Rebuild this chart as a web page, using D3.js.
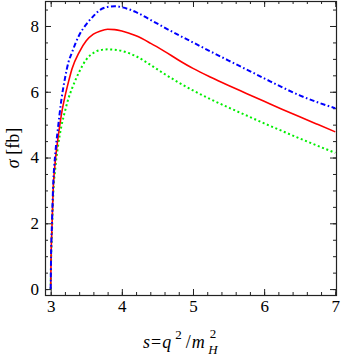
<!DOCTYPE html>
<html lang="en">
	<head>
		<meta charset="UTF-8" />
		<title>sigma vs s</title>
		<script src="https://d3js.org/d3.v7.min.js"></script>
		<style>
			body {
				margin: 0;
				background: #fff;
			}
		</style>
	</head>
	<body>
		<svg id="chart" width="341" height="356"></svg>
		<script>
			// s = q^2 / m_H^2 sample points
			const sValues = [
				3, 3.005, 3.018, 3.033, 3.066, 3.1, 3.15, 3.2, 3.25, 3.3, 3.4, 3.5,
				3.6, 3.7, 3.8, 3.9, 4.0, 4.2, 4.4, 4.6, 4.8, 5.0, 5.25, 5.5, 5.75,
				6.0, 6.25, 6.5, 6.75, 7.0,
			];
			// sigma in fb
			const sigmaBlue = [
				0, 0.95, 2.0, 3.05, 4.15, 4.85, 5.75, 6.4, 6.9, 7.2, 7.72, 8.05, 8.3,
				8.5, 8.58, 8.6, 8.57, 8.42, 8.19, 7.95, 7.72, 7.5, 7.22, 6.95, 6.68,
				6.41, 6.14, 5.89, 5.68, 5.5,
			];
			const sigmaRed = [
				0, 0.88, 1.88, 2.92, 3.92, 4.55, 5.3, 5.85, 6.3, 6.7, 7.2, 7.55, 7.75,
				7.85, 7.9, 7.89, 7.85, 7.7, 7.48, 7.23, 6.96, 6.71, 6.44, 6.19, 5.95,
				5.71, 5.47, 5.24, 5.01, 4.78,
			];
			const sigmaGreen = [
				0, 0.8, 1.75, 2.75, 3.7, 4.3, 4.95, 5.4, 5.8, 6.1, 6.6, 6.98, 7.18,
				7.27, 7.29, 7.28, 7.24, 7.08, 6.82, 6.54, 6.28, 6.04, 5.77, 5.52, 5.28,
				5.04, 4.81, 4.58, 4.36, 4.14,
			];
			const xTicks = [3, 4, 5, 6, 7];
			const yTicks = [0, 2, 4, 6, 8];

			const serif = "'Liberation Serif', 'DejaVu Serif', serif";

			const fLeft = 45,
				fRight = 336,
				fTop = 1,
				fBottom = 295;

			const svg = d3.select("#chart");

			const x = d3.scaleLinear().domain([2.92, 7.01]).range([fLeft, fRight]);
			const y = d3.scaleLinear().domain([-0.18, 8.76]).range([fBottom, fTop]);

			const xMinor = d3.range(3, 7.01, 0.2);
			const yMinor = d3.range(0, 8.76, 0.5);

			// minor ticks, all four sides
			svg.append("g")
				.attr("transform", `translate(0,${fBottom})`)
				.call(d3.axisBottom(x).tickValues(xMinor).tickSize(-3).tickFormat(""));
			svg.append("g")
				.attr("transform", `translate(0,${fTop})`)
				.call(d3.axisTop(x).tickValues(xMinor).tickSize(-3).tickFormat(""));
			svg.append("g")
				.attr("transform", `translate(${fLeft},0)`)
				.call(d3.axisLeft(y).tickValues(yMinor).tickSize(-3).tickFormat(""));
			svg.append("g")
				.attr("transform", `translate(${fRight},0)`)
				.call(d3.axisRight(y).tickValues(yMinor).tickSize(-3).tickFormat(""));

			// major ticks with labels
			svg.append("g")
				.attr("class", "xaxis")
				.attr("transform", `translate(0,${fBottom})`)
				.call(d3.axisBottom(x).tickValues(xTicks).tickSize(-6).tickPadding(5).tickFormat(d3.format("d")));
			svg.append("g")
				.attr("transform", `translate(0,${fTop})`)
				.call(d3.axisTop(x).tickValues(xTicks).tickSize(-6).tickFormat(""));
			svg.append("g")
				.attr("class", "yaxis")
				.attr("transform", `translate(${fLeft},0)`)
				.call(d3.axisLeft(y).tickValues(yTicks).tickSize(-6).tickPadding(6).tickFormat(d3.format("d")));
			svg.append("g")
				.attr("transform", `translate(${fRight},0)`)
				.call(d3.axisRight(y).tickValues(yTicks).tickSize(-6).tickFormat(""));

			svg.selectAll(".domain").remove();
			svg.selectAll(".tick line").attr("stroke", "#222").attr("stroke-width", 1);
			svg.selectAll(".xaxis text, .yaxis text")
				.style("font-family", serif)
				.style("font-size", "17px")
				.attr("fill", "#000");

			// curves
			const series = [
				{ values: sigmaGreen, color: "#00ee00", dash: "2,2.6", width: 2 },
				{ values: sigmaRed, color: "#ff0000", dash: null, width: 1.6 },
				{ values: sigmaBlue, color: "#0000ff", dash: "5,2.5,1.6,2.5", width: 2 },
			];

			const line = d3
				.line()
				.x((d) => x(d[0]))
				.y((d) => y(d[1]))
				.curve(d3.curveMonotoneX);

			const plot = svg.append("g");
			plot.append("clipPath")
				.attr("id", "clip")
				.append("rect")
				.attr("x", fLeft)
				.attr("y", fTop)
				.attr("width", fRight - fLeft)
				.attr("height", fBottom - fTop);

			series.forEach((s) => {
				plot.append("path")
					.datum(sValues.map((v, i) => [v, s.values[i]]))
					.attr("clip-path", "url(#clip)")
					.attr("fill", "none")
					.attr("stroke", s.color)
					.attr("stroke-width", s.width)
					.attr("stroke-dasharray", s.dash)
					.attr("d", line);
			});

			// frame
			svg.append("rect")
				.attr("x", fLeft + 0.5)
				.attr("y", fTop + 0.5)
				.attr("width", fRight - fLeft)
				.attr("height", fBottom - fTop)
				.attr("fill", "none")
				.attr("stroke", "#222")
				.attr("stroke-width", 1.2);

			// axis labels
			const ylab = svg.append("text")
				.attr("transform", `translate(19,${(fTop + fBottom) / 2}) rotate(-90)`)
				.attr("text-anchor", "middle")
				.style("font-family", serif)
				.style("font-size", "18px");
			ylab.append("tspan").attr("font-style", "italic").text("σ");
			ylab.append("tspan").text(" [fb]");

			const xlab = svg.append("text")
				.attr("x", 143)
				.attr("y", 348)
				.style("font-family", serif)
				.style("font-size", "18px");
			xlab.append("tspan").attr("font-style", "italic").text("s");
			xlab.append("tspan").attr("dx", 1).text("=");
			xlab.append("tspan").attr("dx", 1).attr("font-style", "italic").text("q");
			xlab.append("tspan").attr("dx", 4).attr("dy", -9).style("font-size", "13px").text("2");
			xlab.append("tspan").attr("dx", 4).attr("dy", 9).text("/");
			xlab.append("tspan").attr("dx", 1).attr("font-style", "italic").text("m");
			xlab.append("tspan").attr("dx", 5).attr("dy", -10).style("font-size", "13px").text("2");
			xlab.append("tspan").attr("dx", -8).attr("dy", 16).style("font-size", "13px").attr("font-style", "italic").text("H");
		</script>
	</body>
</html>
